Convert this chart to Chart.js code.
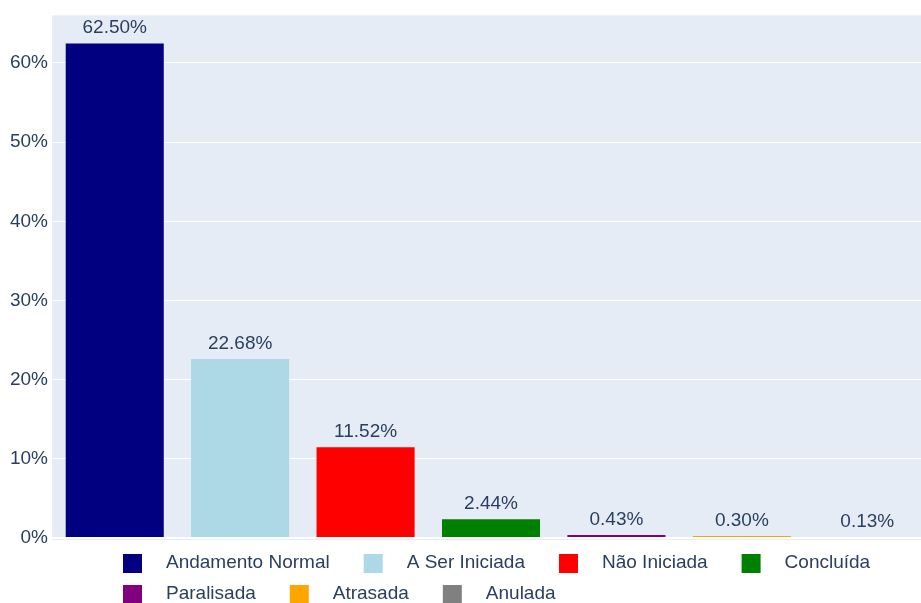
<!DOCTYPE html>
<html>
<head>
<meta charset="utf-8">
<script src="https://cdn.jsdelivr.net/npm/chart.js@4"></script>
<style>
    html, body { margin: 0; padding: 0; background: #fff; overflow: hidden; }
    #wrap { width: 930px; height: 603px; }
</style>
</head>
<body>
<div id="wrap"><canvas id="statusChart" width="930" height="603"></canvas></div>
<script>
// Dados do gráfico
const categories = ['Andamento Normal', 'A Ser Iniciada', 'Não Iniciada', 'Concluída', 'Paralisada', 'Atrasada', 'Anulada'];
const percentages = [62.50, 22.68, 11.52, 2.44, 0.43, 0.30, 0.13];
const barColors = ['#000080', '#ADD8E6', '#FF0000', '#008000', '#800080', '#FFA500', '#808080'];
const yTicks = [0, 10, 20, 30, 40, 50, 60];

const textColor = '#2a3f5f';
const fontFamily = '"Liberation Sans", Arial, sans-serif';

// Fundo da área do gráfico
const plotBg = {
    id: 'plotBg',
    beforeDraw(chart) {
        const { ctx, chartArea: a } = chart;
        ctx.save();
        ctx.fillStyle = '#E5ECF6';
        ctx.fillRect(a.left, a.top, a.right - a.left, a.bottom - a.top + 2);
        ctx.restore();
    }
};

// Rótulos acima das barras
const barLabels = {
    id: 'barLabels',
    afterDatasetsDraw(chart) {
        const { ctx } = chart;
        const meta = chart.getDatasetMeta(0);
        ctx.save();
        ctx.font = '19px ' + fontFamily;
        ctx.fillStyle = textColor;
        ctx.textAlign = 'center';
        ctx.textBaseline = 'middle';
        meta.data.forEach((bar, i) => {
            ctx.fillText(percentages[i].toFixed(2) + '%', bar.x, bar.y - 15);
        });
        ctx.restore();
    }
};

// Legenda no estilo plotly (alinhada à esquerda, quebra de linha)
const flowLegend = {
    id: 'flowLegend',
    afterDraw(chart) {
        const { ctx } = chart;
        ctx.save();
        ctx.font = '19px ' + fontFamily;
        ctx.textBaseline = 'middle';
        let x = 123, y = 563;
        categories.forEach((name, i) => {
            const w = ctx.measureText(name).width;
            if (x + 43 + w > 921) { x = 123; y += 31; }
            ctx.fillStyle = barColors[i];
            ctx.fillRect(x, y - 9, 19, 19);
            ctx.fillStyle = textColor;
            ctx.fillText(name, x + 43, y);
            x += 43 + w + 34;
        });
        ctx.restore();
    }
};

new Chart(document.getElementById('statusChart'), {
    type: 'bar',
    data: {
        labels: categories,
        datasets: [{
            data: percentages,
            backgroundColor: barColors,
            borderColor: '#E5ECF6',
            borderWidth: 0.5,
            barPercentage: 0.79,
            categoryPercentage: 1
        }]
    },
    options: {
        responsive: false,
        animation: false,
        layout: { padding: { top: 15, bottom: 65, left: 0, right: 0 } },
        plugins: { legend: { display: false }, tooltip: { enabled: false } },
        scales: {
            x: { display: false },
            y: {
                min: 0,
                max: 66,
                afterBuildTicks: s => { s.ticks = yTicks.map(v => ({ value: v })); },
                afterFit: s => { s.width = 52; },
                border: { display: false },
                grid: {
                    color: '#ffffff',
                    lineWidth: c => (c.tick && c.tick.value === 0 ? 2 : 1),
                    drawTicks: false
                },
                ticks: {
                    padding: 4,
                    color: textColor,
                    font: { size: 19, family: fontFamily },
                    callback: v => v + '%'
                }
            }
        }
    },
    plugins: [plotBg, barLabels, flowLegend]
});
</script>
</body>
</html>
